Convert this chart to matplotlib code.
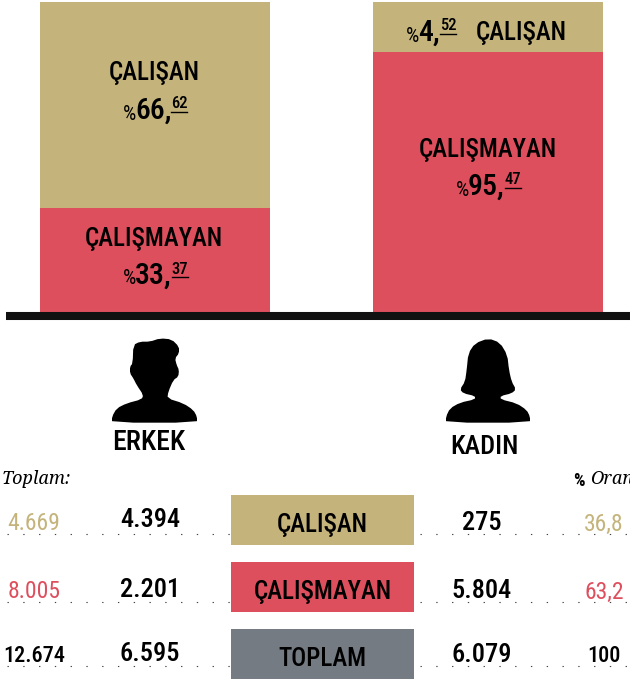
# -*- coding: utf-8 -*-
import numpy as np
import matplotlib
matplotlib.use("Agg")
import matplotlib.pyplot as plt
from matplotlib.patches import Polygon

# shares as they are drawn in the picture (the small slice is drawn bigger than its label)
groups = ["ERKEK", "KADIN"]
bar_calisan = [66.6, 16.1]
bar_calismayan = [33.4, 83.9]

row_names = ["ÇALIŞAN", "ÇALIŞMAYAN", "TOPLAM"]
toplam = ["4.669", "8.005", "12.674"]
erkek = ["4.394", "2.201", "6.595"]
kadin = ["275", "5.804", "6.079"]
oran = ["36,8", "63,2", "100"]

GOLD = "#c4b47b"
RED = "#de4f5e"
GREY = "#747b83"
row_colors = [GOLD, RED, GREY]
val_colors = [GOLD, RED, "black"]
val_sizes = [17, 17, 16]
val_weights = [400, 400, 500]

COND = ["Roboto Condensed", "DejaVu Sans"]
SERIF = ["Noto Serif", "DejaVu Serif"]

man = [(96,308),(96,290),(110,265),(140,250),(185,238),(190,225),(170,195),(160,175),(150,160),
       (150,140),(158,130),(160,75),(180,65),(210,65),(240,55),(275,58),(297,80),(297,100),
       (285,115),(290,135),(297,150),(295,170),(280,180),(265,215),(262,235),(310,250),
       (340,270),(351,290),(351,308)]
woman = [(1098,308),(1098,290),(1110,265),(1140,248),(1185,238),(1185,228),(1150,220),(1140,208),
         (1155,185),(1160,150),(1165,100),(1185,70),(1225,55),(1260,68),(1282,105),(1287,150),
         (1295,185),(1308,208),(1295,220),(1262,228),(1262,238),(1310,250),(1340,270),
         (1350,290),(1350,308)]


def smooth(pts, n=1):
    # corner cutting, the icons are soft at the edges
    p = np.array(pts, dtype=float)
    for i in range(n):
        q = np.roll(p, -1, axis=0)
        p = np.column_stack([0.75*p + 0.25*q, 0.25*p + 0.75*q]).reshape(-1, 2)
    return p


def put(ax, x, y, s, size, ha="center", color="black", weight=500):
    return ax.text(x, y, s, fontsize=size, ha=ha, va="center", color=color,
                   family=COND, fontweight=weight)


def percent(ax, x, y, big, small):
    # "%66,62" with small underlined decimals
    put(ax, x, y+3, "%", 15, ha="left", weight=400)
    t = put(ax, x+12, y, big, 21.5, ha="left")
    fig.canvas.draw()
    end = t.get_window_extent().x1
    put(ax, end, y-7, small, 12, ha="left")
    ax.plot([end, end+16], [y+1, y+1], color="black", lw=1.0)


fig = plt.figure(figsize=(6.3, 6.79), dpi=100)
W, H = 630.0, 679.0

# bars: 2..312 px high, 100 % in total
ax_bar = fig.add_axes([0, (H-312)/H, 1, 310/H])
ax_bar.set_xlim(-155/333.0, 475/333.0)
ax_bar.set_ylim(0, 100)
ax_bar.bar(range(2), bar_calismayan, width=230/333.0, color=RED)
ax_bar.bar(range(2), bar_calisan, bottom=bar_calismayan, width=230/333.0, color=GOLD)
ax_bar.axis("off")

# rest of the page in pixels
ax = fig.add_axes([0, 0, 1, 1], zorder=3)
ax.set_xlim(0, W)
ax.set_ylim(H, 0)
ax.axis("off")
ax.patch.set_alpha(0)

put(ax, 154, 73, "ÇALIŞAN", 18)
percent(ax, 123, 111, "66,", "62")
put(ax, 154, 239, "ÇALIŞMAYAN", 18)
percent(ax, 123, 276, "33,", "37")
percent(ax, 406, 33, "4,", "52")
put(ax, 521, 33, "ÇALIŞAN", 18)
put(ax, 488, 150, "ÇALIŞMAYAN", 18)
percent(ax, 456, 187, "95,", "47")

ax.plot([6, 630], [316, 316], color="#111111", lw=5.8, solid_capstyle="butt")

for pts in (man, woman):
    xy = smooth(pts)/3.0 + [80, 320]
    ax.add_patch(Polygon(xy, closed=True, color="black", lw=0))

put(ax, 149, 442, groups[0], 20)
put(ax, 484, 447, groups[1], 19)

ax.text(2, 479, "Toplam:", fontsize=13, style="italic", family=SERIF, va="center", ha="left")
ax.text(573, 481, "%", fontsize=13, fontweight=700, family=COND, va="center", ha="left")
ax.text(590, 479, "Oran", fontsize=13, style="italic", family=SERIF, va="center", ha="left")

box_top = [495, 562, 629]
dot_y = [534, 602, 666]
text_y = [522, 590, 654]
for i in range(3):
    ax.bar(322.5, 50, width=183, bottom=box_top[i], color=row_colors[i], zorder=2)
    put(ax, 322.5, box_top[i]+30, row_names[i], 18)
    ax.plot([7, 231], [dot_y[i]]*2, color="#444444", lw=0.8, linestyle=(0, (1.2, 13)), zorder=1)
    ax.plot([420, 630], [dot_y[i]]*2, color="#444444", lw=0.8, linestyle=(0, (1.2, 13)), zorder=1)
    put(ax, 34, text_y[i]+2, toplam[i], val_sizes[i], color=val_colors[i], weight=val_weights[i])
    put(ax, 150, text_y[i]-2 if i == 0 else text_y[i], erkek[i], 19)
    put(ax, 482, text_y[i]+1, kadin[i], 19)
    put(ax, 604, text_y[i]+2, oran[i], val_sizes[i], color=val_colors[i], weight=val_weights[i])

ax.set_xlim(0, W)
ax.set_ylim(H, 0)
fig.savefig("out.png", dpi=100)
